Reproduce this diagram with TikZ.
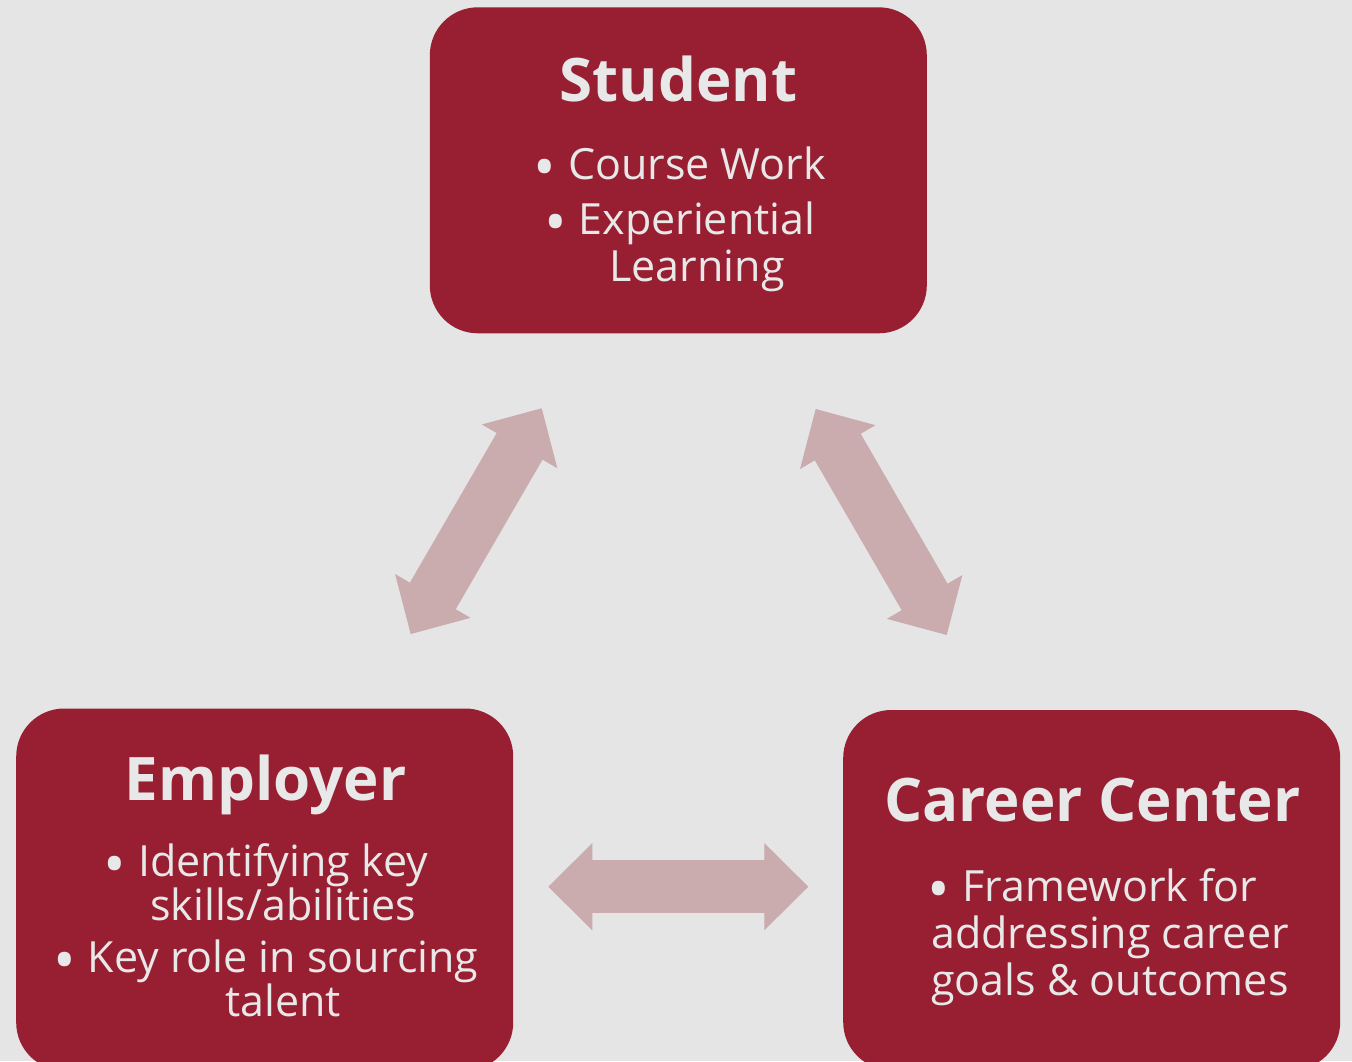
\documentclass[tikz,border=0pt]{standalone}
\usepackage{fontspec}
\setmainfont{Open Sans}
\usetikzlibrary{arrows.meta}

\definecolor{crimson}{HTML}{981E32}
\definecolor{rosy}{HTML}{CAACAE}
\definecolor{paper}{HTML}{E5E5E5}
\definecolor{ink}{HTML}{E8E8E8}

\tikzset{
	box/.style = {fill=crimson, rounded corners=48pt, minimum width=497pt},
	title/.style = {ink, anchor=base, font=\fontsize{60}{60}\selectfont\bfseries},
	items/.style = {ink, anchor=base, align=center, font=\fontsize{43}{47}\selectfont},
	flow/.style = {rosy, line width=53pt, {Triangle[length=44pt,width=87pt,line width=1pt]}-{Triangle[length=44pt,width=87pt,line width=1pt]}}
}
\newcommand{\itm}{\llap{\smash{\raisebox{-9pt}{\scalebox{1.4}{\textbullet}}}\hspace{12pt}}}

\begin{document}
\begin{tikzpicture}[x=1pt, y=-1pt]
	\fill[paper] (0,0) rectangle (1352,1061);
	\useasboundingbox (0,0) rectangle (1352,1061);
	
	% boxes
	\node[box, minimum height=326pt] (student) at (678.3,170.3) {};
	\node[box, minimum height=362pt] (employer) at (264.7,889.5) {};
	\node[box, minimum height=360pt] (career) at (1091.7,890) {};
	
	% texts (items sit on the baseline of their last line)
	\node[title] (studenttitle) at (678.5,101.7) {Student};
	\node[items] (studentitems) at (697,281.7) {\itm Course Work\\[8pt] \itm Experiential\\ Learning};
	
	\node[title] (employertitle) at (265.5,800) {Employer};
	\node[items, font=\fontsize{43}{44}\selectfont] (employeritems) at (283,1016.7) {\itm Identifying key\\ skills/abilities\\[8.5pt] \itm Key role in sourcing\\ talent};
	
	\node[title] (careertitle) at (1092.5,821.7) {Career Center};
	\node[items] (careeritems) at (1110,995) {\itm Framework for\\ addressing career\\ goals \& outcomes};
	
	% arrows
	\coordinate (sl) at (541.7,408.3);
	\coordinate (el) at (410.7,634);
	\coordinate (sr) at (815.7,409);
	\coordinate (cr) at (946.7,635);
	\coordinate (eh) at (548.3,886.7);
	\coordinate (ch) at (808.3,886.7);
	\draw[flow] (el) -- (sl);
	\draw[flow] (sr) -- (cr);
	\draw[flow] (eh) -- (ch);
\end{tikzpicture}
\end{document}
